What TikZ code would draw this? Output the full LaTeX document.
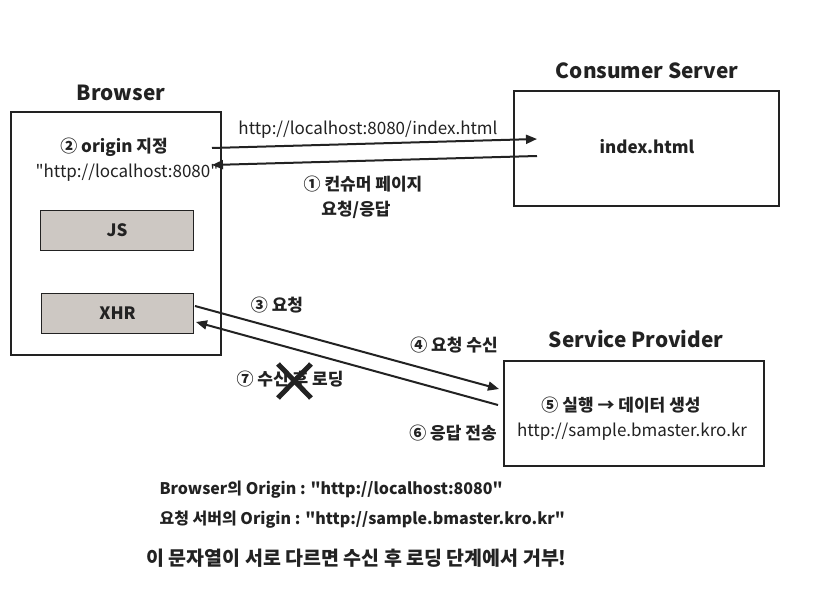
\documentclass[tikz,border=0pt]{standalone}
\usepackage{fontspec}
\setmainfont{Noto Sans CJK KR}[Ligatures=TeXOff]
\usetikzlibrary{arrows.meta}
\definecolor{ink}{HTML}{222222}
\definecolor{boxgray}{HTML}{CDC8C3}
\begin{document}
\begin{tikzpicture}[x=1pt,y=-1pt,
  box/.style={draw=ink, line width=2.4pt, fill=white, inner sep=0pt, anchor=north west},
  innerbox/.style={draw=ink, line width=1.2pt, fill=boxgray, anchor=north west, inner sep=0pt},
  title/.style={font=\bfseries\fontsize{20.8}{24}\selectfont, text=ink},
  lbl/.style={font=\bfseries\fontsize{17}{20}\selectfont, text=ink},
  plain/.style={font=\fontsize{17}{20}\selectfont, text=ink},
  note/.style={font=\bfseries\fontsize{16}{19}\selectfont, text=ink, anchor=west},
  arr/.style={draw=ink, line width=2pt, -{Triangle[length=11pt,width=9pt]}},
  cross/.style={draw=ink, line width=5pt}
]
\useasboundingbox[fill=white] (0,0) rectangle (820,602);

% boxes
\node[box, minimum width=210pt, minimum height=243pt] (browser) at (10,111) {};
\node[title] (browsert) at (121,93) {Browser};
\node[lbl] (origin) at (114,147) {② origin 지정};
\node[plain] (originurl) at (127,173) {"http://localhost:8080"};
\node[innerbox, minimum width=153pt, minimum height=40pt] (js) at (40,210) {};
\node[lbl] (jst) at (js.center) {JS};
\node[innerbox, minimum width=152pt, minimum height=40pt] (xhr) at (41,293) {};
\node[lbl] (xhrt) at (xhr.center) {XHR};

\node[box, minimum width=265pt, minimum height=115pt] (consumer) at (513,90) {};
\node[title] (consumert) at (647,71) {Consumer Server};
\node[lbl] (index) at (647,147) {index.html};

\node[box, minimum width=260pt, minimum height=105pt] (provider) at (503,360) {};
\node[title] (providert) at (636,339) {Service Provider};
\node[lbl] (exec) at (621,405) {⑤ 실행 → 데이터 생성};
\node[plain] (sample) at (632,432) {http://sample.bmaster.kro.kr};

% arrows
\coordinate (a1s) at (212,148);
\coordinate (a1e) at (537,139);
\coordinate (a2s) at (537,156);
\coordinate (a2e) at (212,165);
\draw[arr] (a1s) -- (a1e);
\draw[arr] (a2s) -- (a2e);

\coordinate (b1s) at (195,306);
\coordinate (b1e) at (499,389);
\coordinate (b2s) at (498,405);
\coordinate (b2e) at (196,322);
\draw[arr] (b1s) -- (b1e);
\draw[arr] (b2s) -- (b2e);

% labels
\node[plain] (url) at (368,130) {http://localhost:8080/index.html};
\node[lbl] (step1) at (363,184) {① 컨슈머 페이지};
\node[lbl] (step1b) at (356,210) {요청/응답};
\node[lbl] (step3) at (277,305) {③ 요청};
\node[lbl] (step4) at (454,345) {④ 요청 수신};
\node[lbl] (step7) at (290,379) {⑦ 수신 후 로딩};
\node[lbl] (step6) at (453,433) {⑥ 응답 전송};

\coordinate (x1) at (278,364);
\coordinate (x2) at (311,398);
\coordinate (x3) at (311,364);
\coordinate (x4) at (278,398);
\draw[cross] (x1) -- (x2);
\draw[cross] (x3) -- (x4);

% bottom text
\node[note] (note1) at (156,490) {Browser의 Origin : "http://localhost:8080"};
\node[note] (note2) at (156,520) {요청 서버의 Origin : "http://sample.bmaster.kro.kr"};
\node[note, font=\bfseries\fontsize{19.5}{23}\selectfont] (note3) at (143,558) {이 문자열이 서로 다르면 수신 후 로딩 단계에서 거부!};
\end{tikzpicture}
\end{document}
